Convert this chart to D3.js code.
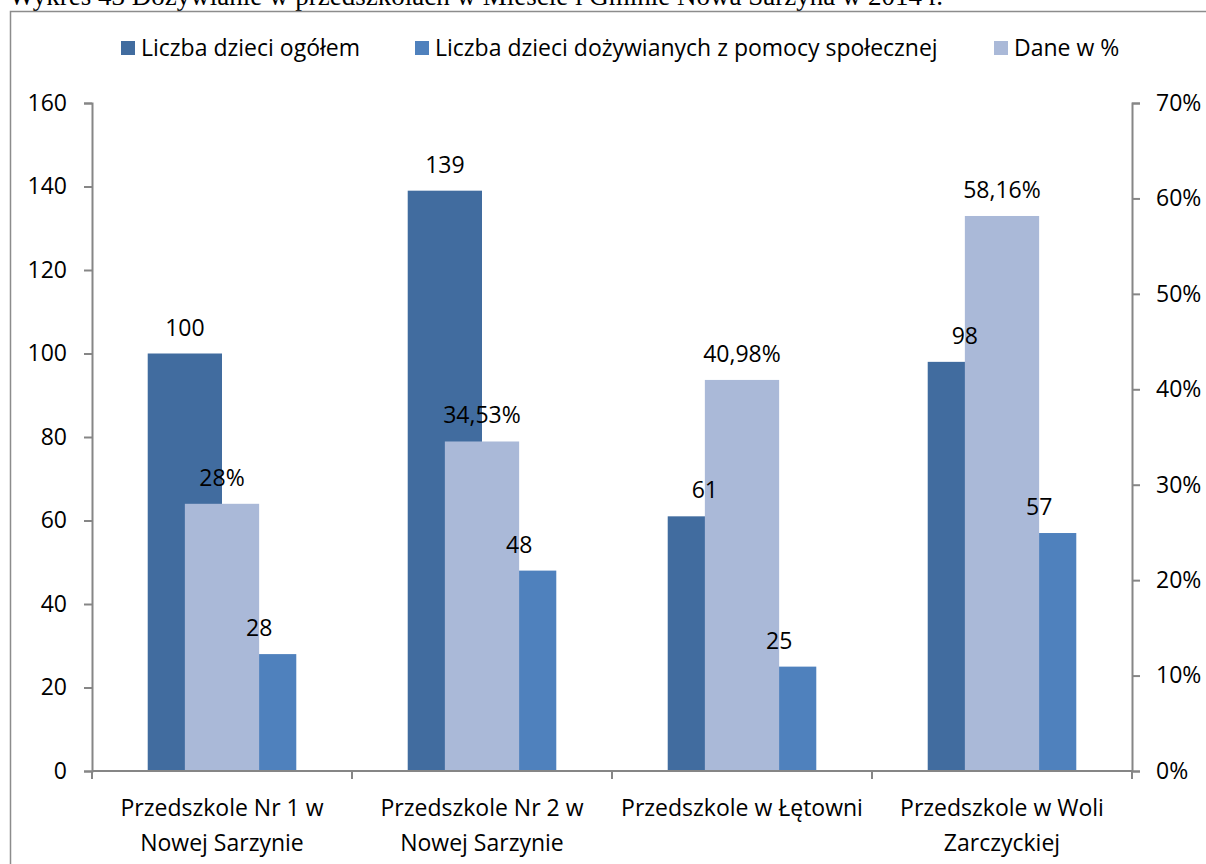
<!DOCTYPE html>
<html>
<head>
<meta charset="utf-8">
<script src="https://cdn.jsdelivr.net/npm/d3@7"></script>
<style>
  body { margin: 0; background: #fff; }
  svg text { font-family: "Open Sans", sans-serif; fill: #000; }
</style>
</head>
<body>
<svg id="chart" width="1206" height="864"></svg>
<script>
const categories = [
  ['Przedszkole Nr 1 w', 'Nowej Sarzynie'],
  ['Przedszkole Nr 2 w', 'Nowej Sarzynie'],
  ['Przedszkole w Łętowni'],
  ['Przedszkole w Woli', 'Zarczyckiej']
];
const totalKids = [100, 139, 61, 98];
const fedKids = [28, 48, 25, 57];
const percentData = [28, 34.53, 40.98, 58.16];
const leftTicks = [0, 20, 40, 60, 80, 100, 120, 140, 160];
const rightTicks = [0, 10, 20, 30, 40, 50, 60, 70];
const seriesNames = ['Liczba dzieci ogółem', 'Liczba dzieci dożywianych z pomocy społecznej', 'Dane w %'];
const colors = ['#416c9f', '#4f81bd', '#aab9d8'];

const svg = d3.select('#chart');
const margin = { left: 92, right: 1132, top: 103, bottom: 771 };
const axisColor = '#868686';
const fontSize = '23px';

// title, cut at the top of the page
svg.append('text')
  .attr('x', 9)
  .attr('y', 5)
  .style('font-family', '"Liberation Serif", serif')
  .style('font-size', '27px')
  .text('Wykres 43 Dożywianie w przedszkolach w Mieście i Gminie Nowa Sarzyna w 2014 r.');

// chart frame
svg.append('rect')
  .attr('x', 10.5).attr('y', 11.5)
  .attr('width', 1300).attr('height', 1000)
  .attr('fill', 'none')
  .attr('stroke', '#8c8c8c')
  .attr('stroke-width', 1.5);

const x = d3.scaleBand()
  .domain(d3.range(categories.length))
  .range([margin.left, margin.right]);

const yLeft = d3.scaleLinear().domain([0, 160]).range([margin.bottom, margin.top]);
const yRight = d3.scaleLinear().domain([0, 70]).range([margin.bottom, margin.top]);

const barW = x.bandwidth() / 3.5;
const mid = i => x(i) + x.bandwidth() / 2;

const g = svg.append('g');

// primary bars
g.selectAll('.bar-total').data(totalKids).enter().append('rect')
  .attr('x', (d, i) => mid(i) - barW)
  .attr('y', d => yLeft(d))
  .attr('width', barW)
  .attr('height', d => yLeft(0) - yLeft(d))
  .attr('fill', colors[0]);

g.selectAll('.bar-fed').data(fedKids).enter().append('rect')
  .attr('x', (d, i) => mid(i))
  .attr('y', d => yLeft(d))
  .attr('width', barW)
  .attr('height', d => yLeft(0) - yLeft(d))
  .attr('fill', colors[1]);

// secondary axis bars, drawn on top
g.selectAll('.bar-pct').data(percentData).enter().append('rect')
  .attr('x', (d, i) => mid(i) - barW / 2)
  .attr('y', d => yRight(d))
  .attr('width', barW)
  .attr('height', d => yRight(0) - yRight(d))
  .attr('fill', colors[2]);

// axes
const leftAxis = g.append('g')
  .attr('transform', `translate(${margin.left},0)`)
  .call(d3.axisLeft(yLeft).tickValues(leftTicks).tickSize(8).tickPadding(17));

const rightAxis = g.append('g')
  .attr('transform', `translate(${margin.right},0)`)
  .call(d3.axisRight(yRight).tickValues(rightTicks).tickSize(8).tickPadding(16)
    .tickFormat(d => d + '%'));

[leftAxis, rightAxis].forEach(a => {
  a.select('.domain').attr('stroke', axisColor).attr('stroke-width', 2);
  a.selectAll('.tick line').attr('stroke', axisColor).attr('stroke-width', 2);
  a.selectAll('text').style('font-size', fontSize).style('font-family', '"Open Sans", sans-serif').attr('fill', '#000');
});

// x axis line and category ticks
g.append('line')
  .attr('x1', margin.left).attr('x2', margin.right)
  .attr('y1', margin.bottom).attr('y2', margin.bottom)
  .attr('stroke', axisColor).attr('stroke-width', 2);

const bounds = d3.range(categories.length + 1).map(i => margin.left + i * x.step());
g.selectAll('.xtick').data(bounds).enter().append('line')
  .attr('x1', d => d).attr('x2', d => d)
  .attr('y1', margin.bottom).attr('y2', margin.bottom + 8)
  .attr('stroke', axisColor).attr('stroke-width', 2);

categories.forEach((lines, i) => {
  const t = g.append('text')
    .attr('x', mid(i))
    .attr('y', 816)
    .attr('text-anchor', 'middle')
    .style('font-size', fontSize);
  lines.forEach((ln, k) => {
    t.append('tspan')
      .attr('x', mid(i))
      .attr('dy', k === 0 ? 0 : 35)
      .text(ln);
  });
});

// data labels
const fmtPct = d => String(d).replace('.', ',') + '%';

g.selectAll('.lbl-total').data(totalKids).enter().append('text')
  .attr('x', (d, i) => mid(i) - barW / 2)
  .attr('y', d => yLeft(d) - 18)
  .attr('text-anchor', 'middle')
  .style('font-size', fontSize)
  .text(d => d);

g.selectAll('.lbl-fed').data(fedKids).enter().append('text')
  .attr('x', (d, i) => mid(i) + barW / 2)
  .attr('y', d => yLeft(d) - 18)
  .attr('text-anchor', 'middle')
  .style('font-size', fontSize)
  .text(d => d);

g.selectAll('.lbl-pct').data(percentData).enter().append('text')
  .attr('x', (d, i) => mid(i))
  .attr('y', d => yRight(d) - 18)
  .attr('text-anchor', 'middle')
  .style('font-size', fontSize)
  .text(d => fmtPct(d));

// legend
const legendX = [121, 415, 994];
const legend = svg.append('g');
seriesNames.forEach((name, i) => {
  legend.append('rect')
    .attr('x', legendX[i]).attr('y', 41)
    .attr('width', 14).attr('height', 14)
    .attr('fill', colors[i]);
  legend.append('text')
    .attr('x', legendX[i] + 20)
    .attr('y', 56)
    .style('font-size', fontSize)
    .text(name);
});
</script>
</body>
</html>
